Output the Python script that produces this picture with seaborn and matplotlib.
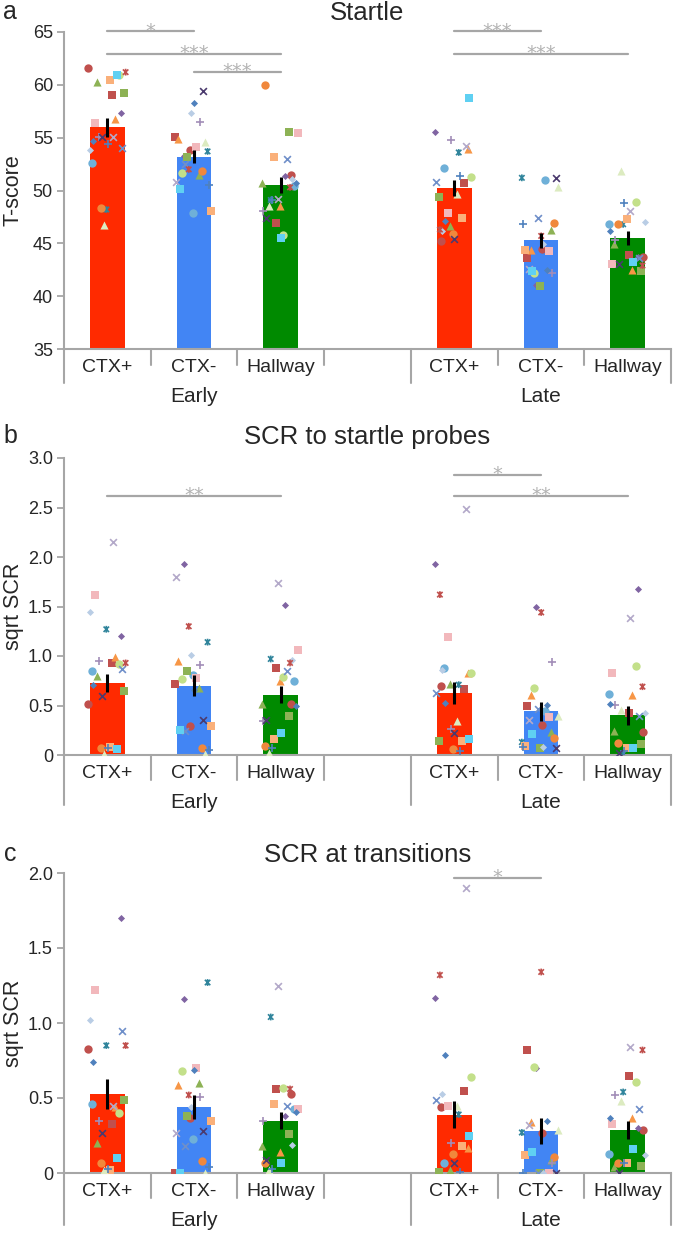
import numpy as np
import pandas as pd
import matplotlib
matplotlib.use("Agg")
import matplotlib.pyplot as plt
import matplotlib.transforms as mtransforms
from matplotlib.path import Path
import seaborn as sns

# ------------------------------------------------------------------ data
context_labels = ["CTX+", "CTX-", "Hallway"]
phase_labels = ["Early", "Late"]
cond_keys = ["E_CTX+", "E_CTX-", "E_Hall", "L_CTX+", "L_CTX-", "L_Hall"]

# bar means / SEM
startle_means = [56.0, 53.2, 50.5, 50.2, 45.3, 45.5]
startle_sems = [0.9, 0.6, 0.75, 0.75, 0.7, 0.65]
scr_probe_means = [0.73, 0.70, 0.61, 0.63, 0.44, 0.40]
scr_probe_sems = [0.09, 0.105, 0.085, 0.11, 0.10, 0.10]
scr_trans_means = [0.53, 0.44, 0.35, 0.39, 0.28, 0.29]
scr_trans_sems = [0.10, 0.08, 0.055, 0.09, 0.085, 0.06]

# individual subjects (22), same subject order in every list
startle_e_ctxp = [61.6, 59.0, 60.3, 57.3, 48.2, 52.6, 56.8, 48.3, 59.2, 60.5, 56.4, 60.9, 46.7, 53.8, 55.1, 55.1, 54.0, 54.4, 54.7, 60.9, 55.1, 61.2]
startle_e_ctxm = [53.8, 55.1, 51.5, 53.3, 53.7, 47.9, 54.9, 51.8, 53.2, 48.1, 54.1, 51.7, 54.6, 57.3, 50.8, 56.5, 52.5, 50.5, 58.3, 50.1, 59.4, 52.0]
startle_e_hall = [51.5, 46.9, 50.7, 51.4, 49.1, 50.4, 48.5, 60.0, 55.5, 53.2, 55.4, 45.8, 48.5, 51.1, 49.2, 48.1, 53.0, 49.1, 50.7, 45.5, 47.4, 50.3]
startle_l_ctxp = [45.2, 50.7, 46.6, 55.5, 53.6, 52.1, 53.9, 45.9, 49.4, 47.4, 47.9, 51.3, 49.7, 46.2, 54.2, 54.8, 50.8, 51.4, 47.1, 58.8, 45.4, 46.3]
startle_l_ctxm = [44.5, 43.6, 46.3, 41.1, 51.2, 51.0, 44.4, 46.9, 41.0, 44.4, 44.3, 42.2, 50.3, 44.9, 42.6, 42.2, 47.4, 46.8, 42.5, 42.4, 51.2, 45.7]
startle_l_hall = [43.7, 43.9, 44.9, 43.7, 46.8, 46.8, 42.5, 46.8, 42.4, 47.3, 43.0, 48.9, 51.8, 47.0, 48.1, 45.3, 43.6, 48.8, 46.2, 43.2, 43.0, 42.9]

probe_e_ctxp = [0.52, 0.93, 0.80, 1.20, 1.27, 0.85, 0.99, 0.07, 0.65, 0.08, 1.62, 0.92, 0.01, 1.44, 2.15, 0.95, 0.87, 0.07, 0.71, 0.06, 0.60, 0.93]
probe_e_ctxm = [0.29, 0.72, 0.68, 1.93, 1.14, 0.81, 0.95, 0.07, 0.85, 0.29, 0.78, 0.77, 0.01, 1.01, 1.80, 0.91, 0.24, 0.05, 0.66, 0.25, 0.35, 1.30]
probe_e_hall = [0.52, 0.88, 0.52, 1.52, 0.97, 0.75, 0.75, 0.09, 0.39, 0.16, 1.06, 0.79, 0.02, 0.96, 1.74, 0.34, 0.85, 0.07, 0.49, 0.22, 0.35, 0.93]
probe_l_ctxp = [0.70, 0.67, 0.72, 1.93, 0.71, 0.88, 0.83, 0.06, 0.14, 0.14, 1.19, 0.83, 0.34, 0.86, 2.48, 0.26, 0.63, 0.04, 0.53, 0.16, 0.22, 1.62]
probe_l_ctxm = [0.30, 0.49, 0.23, 1.49, 0.13, 0.44, 0.61, 0.17, 0.07, 0.09, 0.38, 0.68, 0.39, 0.08, 0.35, 0.94, 0.46, 0.08, 0.51, 0.21, 0.07, 1.44]
probe_l_hall = [0.23, 0.42, 0.24, 1.68, 0.01, 0.62, 0.61, 0.12, 0.11, 0.07, 0.83, 0.90, 0.45, 0.42, 1.38, 0.51, 0.39, 0.04, 0.52, 0.07, 0.02, 0.69]

trans_e_ctxp = [0.83, 0.33, 0.20, 1.70, 0.85, 0.46, 0.44, 0.07, 0.49, 0.02, 1.22, 0.40, 0.02, 1.02, 0.45, 0.35, 0.95, 0.03, 0.74, 0.10, 0.27, 0.85]
trans_e_ctxm = [0.37, 0.00, 0.60, 1.16, 1.27, 0.23, 0.59, 0.08, 0.38, 0.35, 0.70, 0.68, 0.00, 0.44, 0.27, 0.51, 0.18, 0.04, 0.69, 0.00, 0.28, 0.52]
trans_e_hall = [0.53, 0.56, 0.18, 0.38, 1.04, 0.43, 0.14, 0.07, 0.26, 0.46, 0.43, 0.57, 0.02, 0.19, 1.25, 0.35, 0.45, 0.03, 0.41, 0.07, 0.09, 0.56]
trans_l_ctxp = [0.44, 0.55, 0.02, 1.17, 0.39, 0.07, 0.17, 0.13, 0.01, 0.18, 0.45, 0.64, 0.45, 0.53, 1.90, 0.20, 0.49, 0.01, 0.79, 0.25, 0.07, 1.32]
trans_l_ctxm = [0.27, 0.82, 0.09, 0.70, 0.27, 0.00, 0.34, 0.11, 0.00, 0.12, 0.00, 0.71, 0.29, 0.00, 0.32, 0.07, 0.00, 0.00, 0.35, 0.14, 0.00, 1.34]
trans_l_hall = [0.29, 0.65, 0.04, 0.30, 0.54, 0.13, 0.37, 0.07, 0.05, 0.07, 0.33, 0.61, 0.48, 0.12, 0.84, 0.52, 0.43, 0.07, 0.37, 0.16, 0.00, 0.82]

# significance annotations: (condition a, condition b, label)
startle_sig = [("E_CTX+", "E_CTX-", "*"), ("E_CTX+", "E_Hall", "***"), ("E_CTX-", "E_Hall", "***"),
               ("L_CTX+", "L_CTX-", "***"), ("L_CTX+", "L_Hall", "***")]
probe_sig = [("E_CTX+", "E_Hall", "**"), ("L_CTX+", "L_CTX-", "*"), ("L_CTX+", "L_Hall", "**")]
trans_sig = [("L_CTX+", "L_CTX-", "*")]

startle_ticklabels = ["35", "40", "45", "50", "55", "60", "65"]
probe_ticklabels = ["0", "0.5", "1.0", "1.5", "2.0", "2.5", "3.0"]
trans_ticklabels = ["0", "0.5", "1.0", "1.5", "2.0"]

# ------------------------------------------------------------------ styles
STAR = Path([(-1, -1), (1, 1), (-1, 1), (1, -1), (0, -1.25), (0, 1.25)],
            [Path.MOVETO, Path.LINETO, Path.MOVETO, Path.LINETO, Path.MOVETO, Path.LINETO])
subject_markers = ['o', 's', '^', 'D', STAR, 'o', '^', 'o', 's', 's', 's', 'o', '^', 'D',
                   'x', '+', 'x', '+', 'D', 's', 'x', STAR]
subject_colors = ['#c0504d', '#c0504d', '#8db255', '#8064a2', '#31859c', '#6fb0d8', '#f79646', '#f0883c',
                  '#8db255', '#fab07a', '#f2b8bc', '#c3e08a', '#dcebc0', '#b9cde5',
                  '#b3a9c9', '#a28db8', '#6f8fc9', '#4f81bd', '#4f81bd', '#5fd0f2', '#4b3a6e', '#c0504d']
bar_colors = ["#ff2a00", "#4285f4", "#008a00", "#ff2a00", "#4285f4", "#008a00"]
GRAY = "#a6a6a6"

sns.set_style("white")
plt.rcParams['font.family'] = ['Liberation Sans', 'DejaVu Sans']

W, H = 675, 1235
fig = plt.figure(figsize=(W / 100, H / 100), dpi=100)
order = ["E_CTX+", "E_CTX-", "E_Hall", "gap", "L_CTX+", "L_CTX-", "L_Hall"]
xpos = [order.index(k) for k in cond_keys]


def jitter(i, c):
    return ((i * 0.618034 + c * 0.382) % 1.0 - 0.5) * 0.44


panels = [
    dict(top=32, bottom=349, means=startle_means, sems=startle_sems,
         vals=[startle_e_ctxp, startle_e_ctxm, startle_e_hall, startle_l_ctxp, startle_l_ctxm, startle_l_hall],
         ylim=(35, 65), ticklabels=startle_ticklabels, ylabel="T-score", title="Startle", letter="a",
         title_y=13, short=16, long=34, sig=startle_sig, sig_y=[65.09, 62.95, 61.25, 65.09, 62.95]),
    dict(top=458, bottom=755, means=scr_probe_means, sems=scr_probe_sems,
         vals=[probe_e_ctxp, probe_e_ctxm, probe_e_hall, probe_l_ctxp, probe_l_ctxm, probe_l_hall],
         ylim=(0, 3), ticklabels=probe_ticklabels, ylabel="sqrt SCR", title="SCR to startle probes", letter="b",
         title_y=437, short=25, long=50, sig=probe_sig, sig_y=[2.62, 2.83, 2.62]),
    dict(top=873, bottom=1173, means=scr_trans_means, sems=scr_trans_sems,
         vals=[trans_e_ctxp, trans_e_ctxm, trans_e_hall, trans_l_ctxp, trans_l_ctxm, trans_l_hall],
         ylim=(0, 2), ticklabels=trans_ticklabels, ylabel="sqrt SCR", title="SCR at transitions", letter="c",
         title_y=855, short=25, long=52, sig=trans_sig, sig_y=[1.97]),
]

for P in panels:
    hpx = P["bottom"] - P["top"]
    ax = fig.add_axes([64 / W, 1 - P["bottom"] / H, 607 / W, hpx / H])
    df = pd.DataFrame({"cond": cond_keys, "mean": P["means"]})
    sns.barplot(data=df, x="cond", y="mean", hue="cond", order=order, hue_order=cond_keys,
                palette=dict(zip(cond_keys, bar_colors)), width=0.4, errorbar=None,
                saturation=1, linewidth=0, legend=False, ax=ax, zorder=1)
    # individual subjects
    for i, (m, col) in enumerate(zip(subject_markers, subject_colors)):
        xs = [xpos[c] + jitter(i, c) for c in range(6)]
        ys = [P["vals"][c][i] for c in range(6)]
        if isinstance(m, Path):
            sns.scatterplot(x=xs, y=ys, marker=m, color=col, edgecolor=col, facecolor="none",
                            s=24, linewidth=1.2, ax=ax, legend=False, zorder=3)
        elif m in ("x", "+"):
            sns.scatterplot(x=xs, y=ys, marker=m, color=col, s=30 if m == "+" else 24,
                            linewidth=1.2, ax=ax, legend=False, zorder=3)
        else:
            size = {"o": 36, "s": 30, "^": 34, "D": 13}[m]
            sns.scatterplot(x=xs, y=ys, marker=m, color=col, s=size, linewidth=0,
                            ax=ax, legend=False, zorder=3)
    ax.errorbar(xpos, P["means"], yerr=P["sems"], fmt="none", ecolor="black",
                elinewidth=2.2, capsize=0, zorder=4)

    ax.set_xlim(-0.5, 6.5)
    ax.set_ylim(*P["ylim"])
    ticks = np.linspace(P["ylim"][0], P["ylim"][1], len(P["ticklabels"]))
    ax.set_yticks(ticks)
    ax.set_yticklabels(P["ticklabels"])
    ax.set_xticks([])
    ax.set_xlabel("")
    ax.set_ylabel("")
    for s in ["top", "right"]:
        ax.spines[s].set_visible(False)
    for s in ["left", "bottom"]:
        ax.spines[s].set_color(GRAY)
        ax.spines[s].set_linewidth(1.5)
    ax.tick_params(axis="y", direction="out", length=5, width=1.3, color=GRAY,
                   labelsize=13, pad=3, left=True)

    # two-level categorical axis
    bt = mtransforms.blended_transform_factory(ax.transData, ax.transAxes)
    for x in [0.5, 1.5, 2.5, 4.5, 5.5]:
        ax.plot([x, x], [0, -P["short"] / hpx], transform=bt, color=GRAY, lw=1.5, clip_on=False)
    for x in [-0.5, 3.5, 6.5]:
        ax.plot([x, x], [0, -P["long"] / hpx], transform=bt, color=GRAY, lw=1.5, clip_on=False)
    for k, x in enumerate(xpos):
        ax.text(x, -18 / hpx, context_labels[k % 3], transform=bt, ha="center", va="center",
                fontsize=14, clip_on=False)
    for g, x in enumerate([1, 5]):
        ax.text(x, -48 / hpx, phase_labels[g], transform=bt, ha="center", va="center",
                fontsize=15, clip_on=False)

    # significance brackets
    for (a, b, lab), yv in zip(P["sig"], P["sig_y"]):
        x1, x2 = order.index(a), order.index(b)
        ax.plot([x1, x2], [yv, yv], color=GRAY, lw=1.6, clip_on=False, zorder=5)
        ax.annotate(lab, xy=((x1 + x2) / 2, yv), xytext=(0, -4), textcoords="offset points",
                    ha="center", va="baseline", fontsize=14, color="#b3b3b3",
                    family="DejaVu Sans", annotation_clip=False)

    fig.text((64 + 671) / 2 / W, 1 - P["title_y"] / H, P["title"], ha="center", va="center", fontsize=18.5)
    fig.text(10 / W, 1 - (P["title_y"] - 1) / H, P["letter"], ha="center", va="center", fontsize=18)
    fig.text(13 / W, 1 - (P["top"] + P["bottom"]) / 2 / H, P["ylabel"], rotation=90,
             ha="center", va="center", fontsize=15.5)

fig.savefig("out.png", dpi=100)
